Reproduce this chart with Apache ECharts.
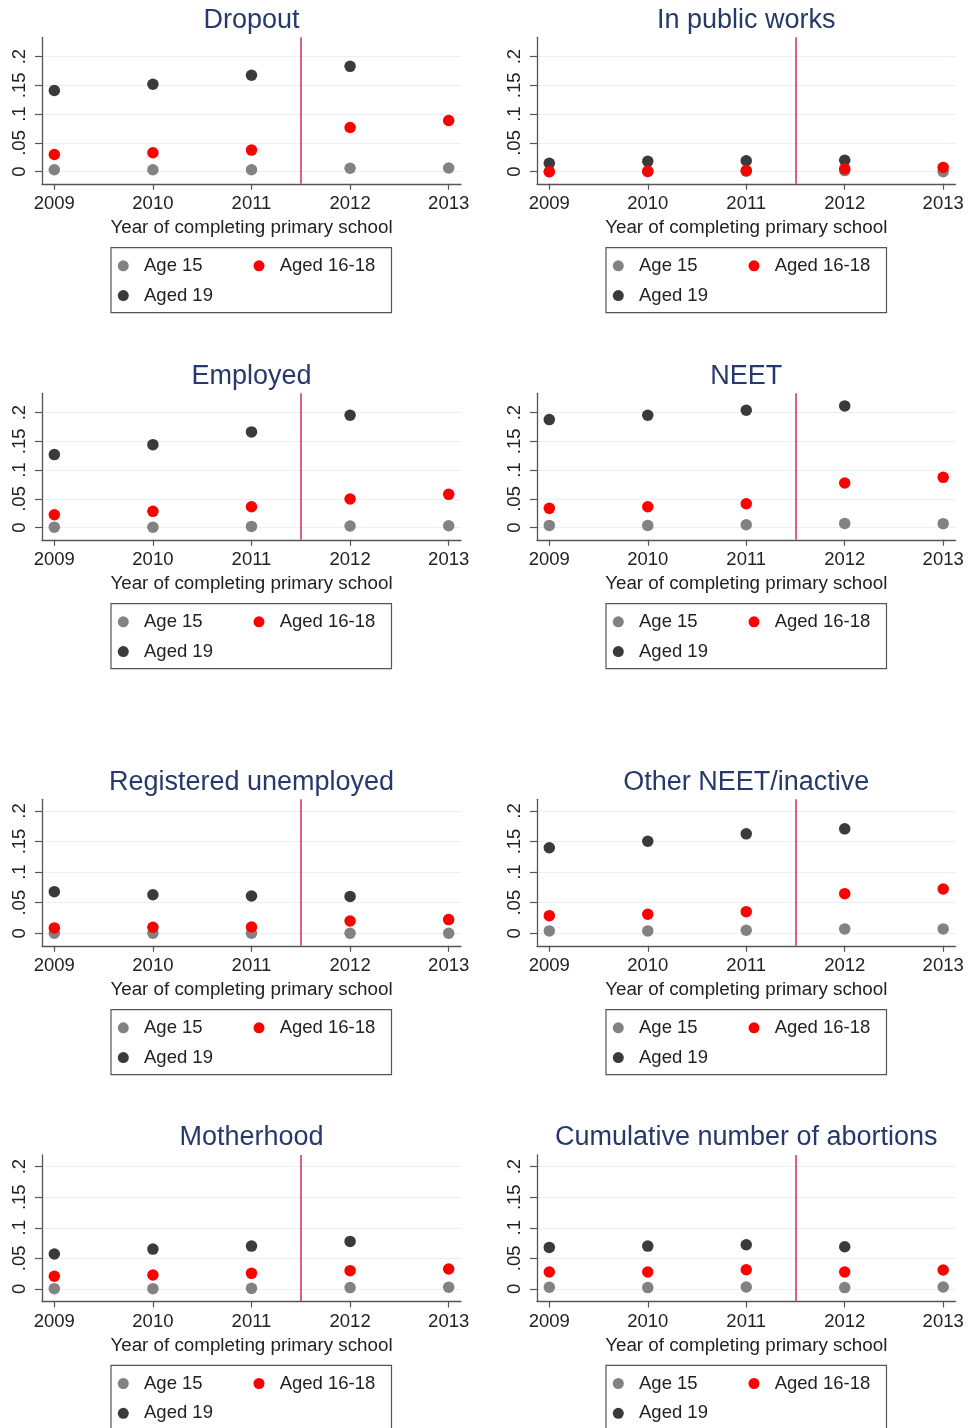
<!DOCTYPE html>
<html>
<head>
<meta charset="utf-8">
<script src="https://cdn.jsdelivr.net/npm/echarts@6/dist/echarts.min.js"></script>
<style>
html,body{margin:0;padding:0;background:#fff;}
#c{width:969px;height:1428px;}
</style>
</head>
<body>
<div id="c"></div>
<script>
// ---- data ----
const years = [2009, 2010, 2011, 2012, 2013];
const years19 = [2009, 2010, 2011, 2012];
const xTicks = [2009, 2010, 2011, 2012, 2013];
const yTicks = [0, 0.05, 0.1, 0.15, 0.2];
const yTickLabels = ['0', '.05', '.1', '.15', '.2'];
const cutoffYear = 2011.5;
const seriesNames = ['Age 15', 'Aged 16-18', 'Aged 19'];
const xAxisTitle = 'Year of completing primary school';
const titles = ['Dropout', 'In public works', 'Employed', 'NEET',
  'Registered unemployed', 'Other NEET/inactive', 'Motherhood', 'Cumulative number of abortions'];

const age15 = [
  [0.0035, 0.0035, 0.0035, 0.006, 0.0064],
  [0.0, 0.0, 0.001, 0.002, 0.0],
  [0.001, 0.001, 0.0023, 0.003, 0.0035],
  [0.004, 0.004, 0.0052, 0.0075, 0.007],
  [0.0, 0.0, 0.0, 0.0, 0.0],
  [0.0038, 0.0038, 0.0049, 0.0071, 0.0071],
  [0.0005, 0.0005, 0.001, 0.0022, 0.0027],
  [0.0027, 0.0022, 0.0033, 0.0022, 0.0033]
];
const aged1618 = [
  [0.030, 0.033, 0.0376, 0.0769, 0.089],
  [0.0, 0.001, 0.002, 0.005, 0.0075],
  [0.0226, 0.0284, 0.0365, 0.0499, 0.058],
  [0.0336, 0.0365, 0.0417, 0.0777, 0.0875],
  [0.0087, 0.0098, 0.0103, 0.0201, 0.0223],
  [0.0288, 0.031, 0.0353, 0.0647, 0.0723],
  [0.0207, 0.0228, 0.0255, 0.0299, 0.0326],
  [0.0277, 0.0277, 0.0315, 0.0277, 0.031]
];
const aged19 = [
  [0.141, 0.152, 0.1676, 0.183],
  [0.0145, 0.018, 0.019, 0.0197],
  [0.127, 0.1443, 0.1664, 0.1954],
  [0.1878, 0.1954, 0.204, 0.2116],
  [0.068, 0.063, 0.0609, 0.0603],
  [0.1397, 0.1505, 0.1625, 0.1707],
  [0.0571, 0.0652, 0.0701, 0.0777],
  [0.0679, 0.0701, 0.0723, 0.069]
];

// ---- layout / style ----
const FONT = '"Liberation Sans", Arial, sans-serif';
const rowTops = [37.3, 393.3, 799.3, 1155];
const plotH = 146.5;
const colLefts = [42, 537];
const colWidths = [419, 418.5];
const yRanges = [[-0.021, 0.2335], [-0.021, 0.2335], [-0.0205, 0.219], [-0.0205, 0.219]];
const xMin = 2008.875, xMax = 2013.125;
const colors = { 'Age 15': '#828282', 'Aged 16-18': '#ff0000', 'Aged 19': '#3a3a3a' };
const axisColor = '#555555';
const textColor = '#222222';

const grid = [], xAxis = [], yAxis = [], title = [], legend = [], series = [], graphic = [];

function pairs(xs, ys) { return xs.map((x, i) => [x, ys[i]]); }

const legendText = { fontSize: 18.5, color: textColor, fontFamily: FONT, padding: [0, 0, 0, 10.2] };

for (let p = 0; p < 8; p++) {
  const r = Math.floor(p / 2), c = p % 2;
  const left = colLefts[c], top = rowTops[r], w = colWidths[c];
  grid.push({ left: left, top: top, width: w, height: plotH, containLabel: false });
  xAxis.push({
    type: 'value', gridIndex: p, min: xMin, max: xMax,
    name: xAxisTitle, nameLocation: 'middle', nameGap: 34.5,
    nameTextStyle: { fontSize: 18.8, color: textColor, fontFamily: FONT },
    axisLine: { show: true, onZero: false, lineStyle: { color: axisColor, width: 1.3 } },
    axisTick: { show: true, length: 6, customValues: xTicks, lineStyle: { color: axisColor, width: 1.2 } },
    axisLabel: { show: true, customValues: xTicks, margin: 11, fontSize: 18.5, color: textColor, fontFamily: FONT,
      formatter: v => String(Math.round(v)) },
    splitLine: { show: false }
  });
  yAxis.push({
    type: 'value', gridIndex: p, min: yRanges[r][0], max: yRanges[r][1],
    axisLine: { show: true, onZero: false, lineStyle: { color: axisColor, width: 1.3 } },
    axisTick: { show: true, length: 7, customValues: yTicks, lineStyle: { color: axisColor, width: 1.2 } },
    axisLabel: { show: true, customValues: yTicks, rotate: 90, margin: 13, fontSize: 18.5, color: textColor, fontFamily: FONT,
      formatter: v => { const i = yTicks.findIndex(t => Math.abs(t - v) < 1e-9); return i >= 0 ? yTickLabels[i] : ''; } },
    splitLine: { show: true, lineStyle: { color: '#e8f0f2', width: 1.2 } }
  });
  title.push({
    text: titles[p], left: left + w / 2, textAlign: 'center', top: top - 30.5, padding: 0,
    textStyle: { fontSize: 27, fontWeight: 'normal', color: '#26396b', fontFamily: FONT }
  });
  const boxLeft = left + 69, boxTop = top + 210.4;
  // legend frame
  graphic.push({
    type: 'rect', silent: true, z: 100,
    shape: { x: boxLeft, y: boxTop, width: 280.5, height: 65 },
    style: { fill: 'none', stroke: axisColor, lineWidth: 1.2 }
  });
  legend.push({
    data: ['Age 15', 'Aged 19'],
    orient: 'vertical', left: boxLeft + 6.8, top: boxTop + 8.6,
    itemGap: 10.8, itemWidth: 11, itemHeight: 11, icon: 'circle', padding: 0,
    textStyle: legendText
  });
  legend.push({
    data: ['Aged 16-18'],
    orient: 'vertical', left: boxLeft + 142.5, top: boxTop + 8.6,
    itemGap: 10.8, itemWidth: 11, itemHeight: 11, icon: 'circle', padding: 0,
    textStyle: legendText
  });
  const sym = { type: 'scatter', xAxisIndex: p, yAxisIndex: p, symbol: 'circle', symbolSize: 11.5, animation: false, silent: true };
  series.push(Object.assign({}, sym, {
    name: 'Age 15', data: pairs(years, age15[p]), itemStyle: { color: colors['Age 15'], opacity: 1 }, z: 2,
    markLine: {
      silent: true, symbol: ['none', 'none'], animation: false, label: { show: false },
      lineStyle: { color: '#d62a55', width: 1.5, type: 'solid' },
      data: [{ xAxis: cutoffYear }]
    }
  }));
  series.push(Object.assign({}, sym, {
    name: 'Aged 19', data: pairs(years19, aged19[p]), itemStyle: { color: colors['Aged 19'], opacity: 1 }, z: 3
  }));
  series.push(Object.assign({}, sym, {
    name: 'Aged 16-18', data: pairs(years, aged1618[p]), itemStyle: { color: colors['Aged 16-18'], opacity: 1 }, z: 4
  }));
}

const chart = echarts.init(document.getElementById('c'), null, { renderer: 'canvas' });
chart.setOption({
  backgroundColor: '#ffffff',
  animation: false,
  textStyle: { fontFamily: FONT },
  grid, xAxis, yAxis, title, legend, series, graphic
});
</script>
</body>
</html>
